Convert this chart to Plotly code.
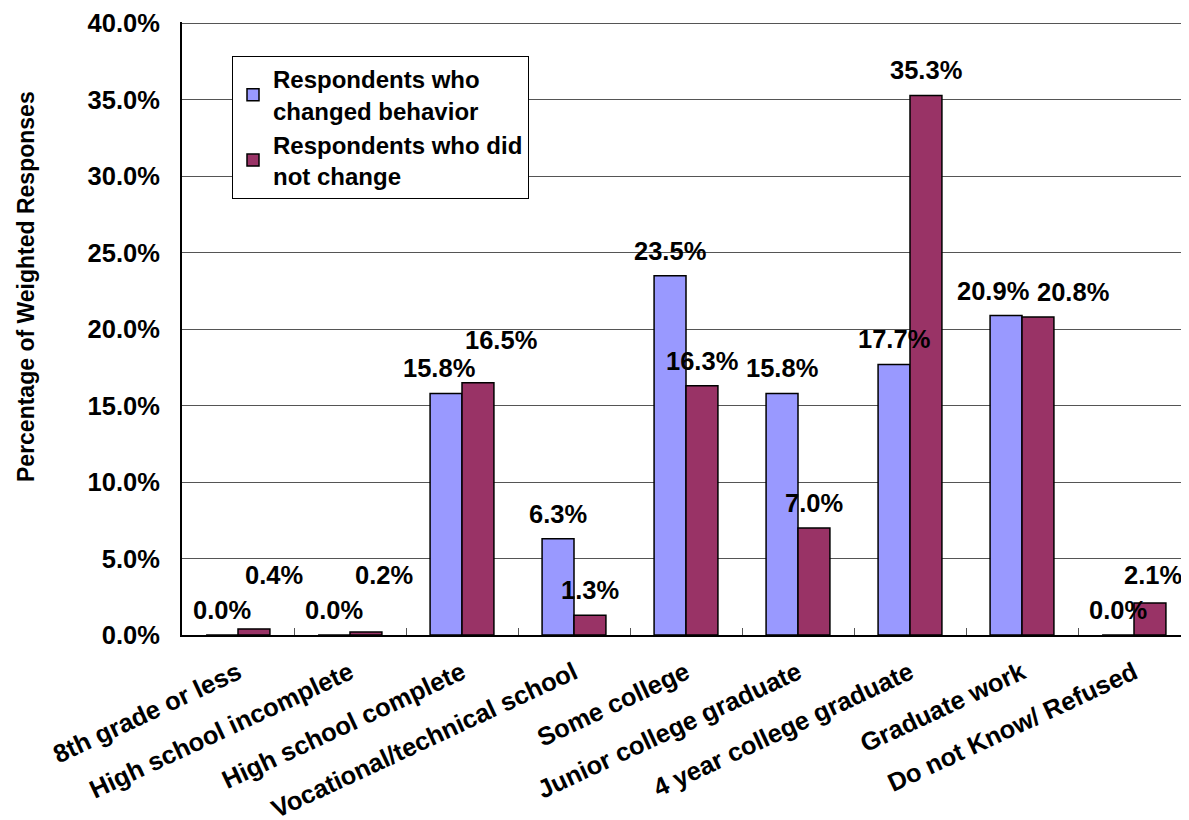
import plotly.graph_objects as go

# Education level vs. behaviour change
categories = [
    "8th grade or less",
    "High school incomplete",
    "High school complete",
    "Vocational/technical school",
    "Some college",
    "Junior college graduate",
    "4 year college graduate",
    "Graduate work",
    "Do not Know/ Refused",
]
changed = [0.0, 0.0, 15.8, 6.3, 23.5, 15.8, 17.7, 20.9, 0.0]
unchanged = [0.4, 0.2, 16.5, 1.3, 16.3, 7.0, 35.3, 20.8, 2.1]

# pixel nudges for the data labels (Excel moved a few to avoid overlaps)
nudge_changed = [(0, 0), (0, 0), (-7, 0), (0, 0), (0, 0), (0, 0), (0, 0), (-13, 0), (0, 0)]
nudge_unchanged = [(20, 29), (18, 32), (23, 18), (0, 0), (0, 0), (0, 0), (0, 0), (35, 0), (3, 3)]

FONT = "Liberation Sans, Arial, sans-serif"
BLUE = "#9999FF"
PLUM = "#993366"
FS = 25.5

W, H = 1189, 820
# the page body adds 8px, so margins are 8px smaller than the target spots
ML, MR, MT, MB = 174, 7, 14, 193
bargap = 0.43
cat_px = (W - ML - MR) / len(categories)
bar_px = cat_px * (1 - bargap) / 2

fig = go.Figure()
fig.add_trace(go.Bar(
    x=categories, y=changed, name="Respondents who<br>changed behavior",
    marker=dict(color=BLUE, line=dict(color="black", width=1.5)),
))
fig.add_trace(go.Bar(
    x=categories, y=unchanged, name="Respondents who did<br>not change",
    marker=dict(color=PLUM, line=dict(color="black", width=1.5)),
))

# data labels
for vals, nudges, side in [(changed, nudge_changed, -1), (unchanged, nudge_unchanged, 1)]:
    for cat, v, (dx, dy) in zip(categories, vals, nudges):
        fig.add_annotation(
            x=cat, y=v, text=f"{v:.1f}%", showarrow=False,
            xshift=side * bar_px / 2 + dx, yshift=25 + dy,
            yanchor="middle", xanchor="center",
            font=dict(family=FONT, size=FS, color="black", weight="bold"),
        )

# y-axis title
fig.add_annotation(
    xref="paper", yref="paper", x=0, y=(H - MB - 279) / (H - MT - MB),
    xshift=-156, text="Percentage of Weighted Responses", textangle=-90,
    showarrow=False, xanchor="center", yanchor="middle",
    font=dict(family=FONT, size=23, color="black", weight="bold"),
)

fig.update_layout(
    width=W, height=H,
    margin=dict(l=ML, r=MR, t=MT, b=MB, autoexpand=False),
    paper_bgcolor="white", plot_bgcolor="white",
    barmode="group", bargap=bargap, bargroupgap=0,
    font=dict(family=FONT, size=FS, color="black", weight="bold"),
    showlegend=True,
    legend=dict(
        x=(232 - 8 - ML) / (W - ML - MR), y=(H - MB - 48) / (H - MT - MB),
        xanchor="left", yanchor="top",
        bgcolor="white", bordercolor="black", borderwidth=1,
        font=dict(family=FONT, size=24, color="black", weight="bold"),
        tracegroupgap=0,
    ),
)

fig.update_xaxes(
    tickangle=-25, tickson="boundaries", ticks="inside", ticklen=7,
    tickcolor="#555555", showline=True, linecolor="black", linewidth=2,
    showgrid=False, automargin=False,
    tickfont=dict(family=FONT, size=FS, color="black", weight="bold"),
    ticklabelstandoff=11,
)
fig.update_yaxes(
    range=[0, 40.1], dtick=5, tickformat=".1f", ticksuffix="%",
    showline=True, linecolor="black", linewidth=2,
    showgrid=True, gridcolor="#555555", gridwidth=1,
    zeroline=False, ticks="", automargin=False, ticklabeloverflow="allow",
    tickfont=dict(family=FONT, size=FS, color="black", weight="bold"),
    ticklabelstandoff=15,
)

fig.write_html("out.html")
